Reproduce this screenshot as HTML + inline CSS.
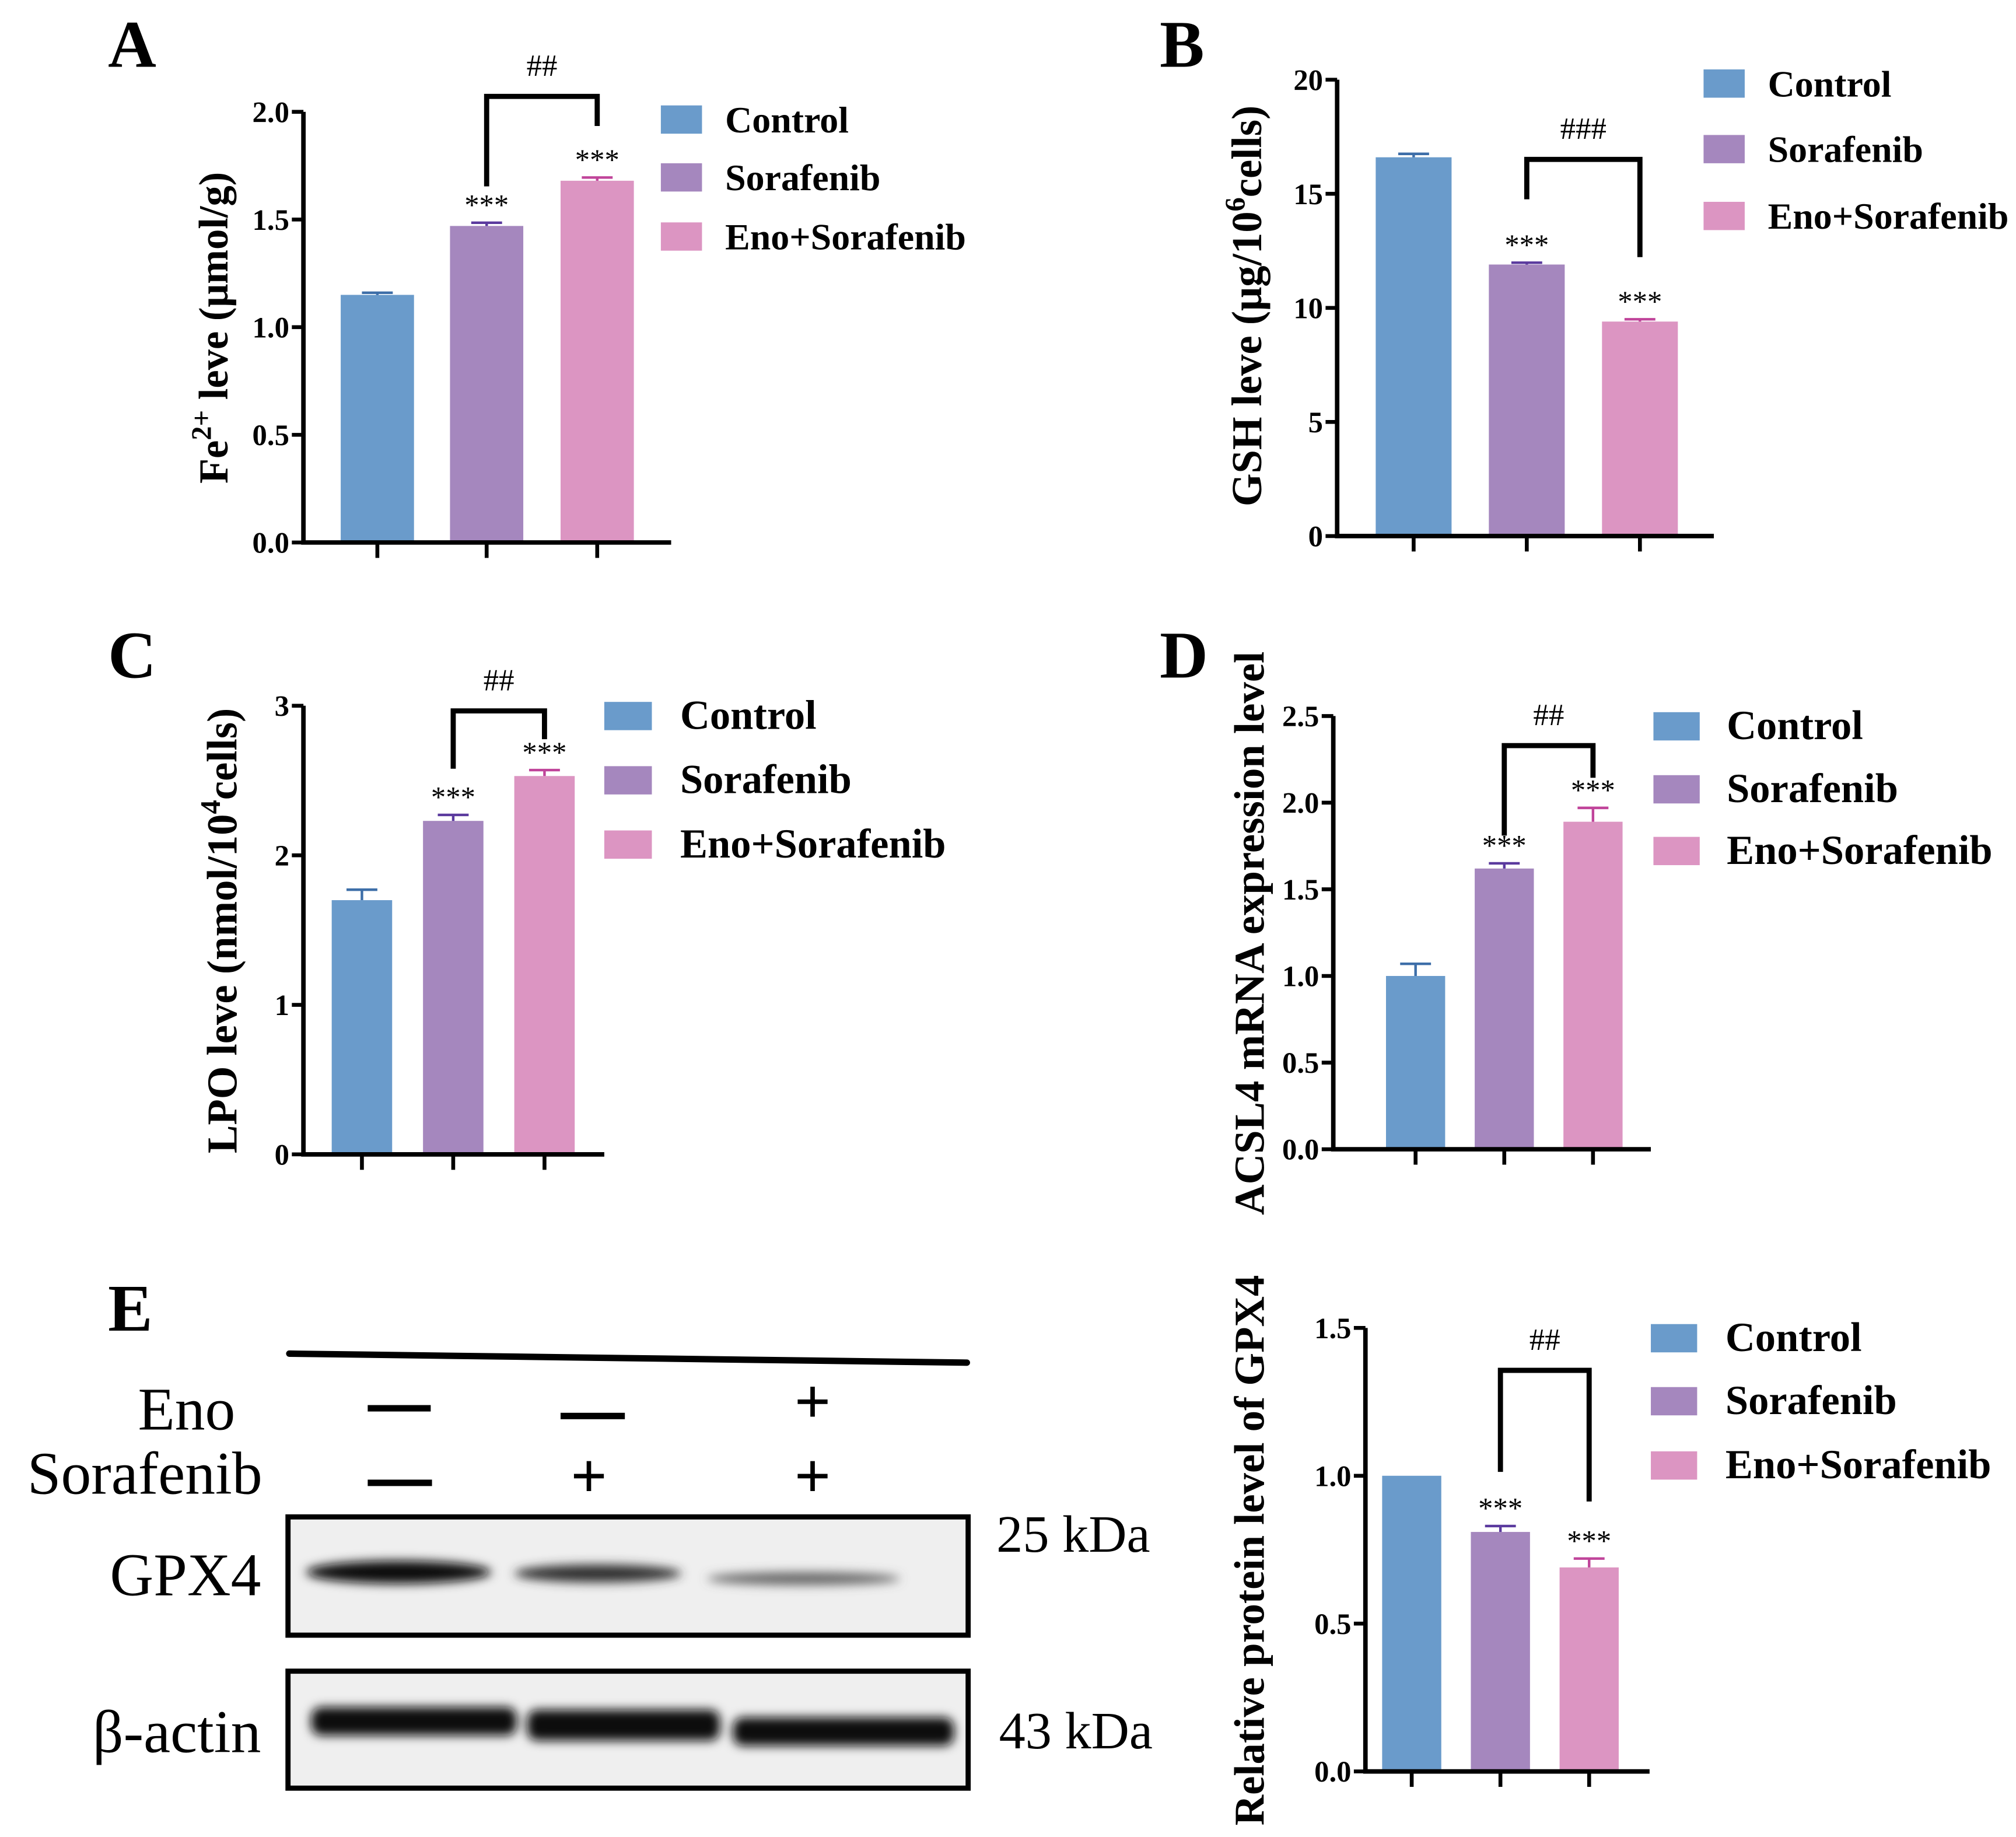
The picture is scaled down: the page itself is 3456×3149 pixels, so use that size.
<!DOCTYPE html>
<html><head><meta charset="utf-8"><style>
html,body{margin:0;padding:0;background:#fff;}
svg{display:block;}
text{font-family:"Liberation Serif",serif;}
</style></head><body>
<svg id="fig" width="3456" height="3149" viewBox="0 0 1568 1429" preserveAspectRatio="none" xmlns="http://www.w3.org/2000/svg">
<defs>
<filter id="blur" x="-10%" y="-100%" width="120%" height="300%"><feGaussianBlur stdDeviation="4"/></filter>
</defs>
<g id="charts"></g>
<g>
<text x="84" y="1035" font-size="52" font-weight="bold">E</text>
<line x1="225" y1="1053" x2="752" y2="1060" stroke="#000" stroke-width="5" stroke-linecap="round"/>
<text x="183" y="1112" font-size="47" text-anchor="end">Eno</text>
<text x="204" y="1162" font-size="47" text-anchor="end">Sorafenib</text>
<rect x="286" y="1093" width="49" height="5" fill="#000"/>
<rect x="436" y="1099" width="50" height="5" fill="#000"/>
<text x="632" y="1107" font-size="50" font-weight="bold" text-anchor="middle" font-family="Liberation Sans">+</text>
<rect x="286" y="1151" width="50" height="5" fill="#000"/>
<text x="458" y="1165" font-size="50" font-weight="bold" text-anchor="middle" font-family="Liberation Sans">+</text>
<text x="632" y="1165" font-size="50" font-weight="bold" text-anchor="middle" font-family="Liberation Sans">+</text>
<rect x="224" y="1180" width="529" height="92" fill="#efefef" stroke="#000" stroke-width="4"/>
<g filter="url(#blur)">
<ellipse cx="310" cy="1223" rx="72" ry="9" fill="#111"/>
<ellipse cx="465" cy="1224" rx="65" ry="7" fill="#333"/>
<ellipse cx="625" cy="1228" rx="75" ry="5" fill="#666"/>
</g>
<rect x="224" y="1300" width="529" height="91" fill="#efefef" stroke="#000" stroke-width="4"/>
<g filter="url(#blur)">
<rect x="242" y="1328" width="160" height="22" rx="8" fill="#111"/>
<rect x="410" y="1330" width="150" height="24" rx="8" fill="#111"/>
<rect x="570" y="1336" width="172" height="22" rx="8" fill="#111"/>
</g>
<text x="203" y="1241" font-size="47" text-anchor="end">GPX4</text>
<text x="203" y="1363" font-size="47" text-anchor="end">β-actin</text>
<text x="775" y="1207" font-size="41">25 kDa</text>
<text x="777" y="1360" font-size="41">43 kDa</text>
</g>
</svg>
<script>
const NS = "http://www.w3.org/2000/svg";
const groups = ["Control", "Sorafenib", "Eno+Sorafenib"];
const feValues = [1.15, 1.47, 1.68];
const feErrors = [0.01, 0.015, 0.015];
const feTicks = ["0.0", "0.5", "1.0", "1.5", "2.0"];
const gshValues = [16.6, 11.9, 9.4];
const gshErrors = [0.15, 0.08, 0.1];
const gshTicks = ["0", "5", "10", "15", "20"];
const lpoValues = [1.70, 2.23, 2.53];
const lpoErrors = [0.07, 0.04, 0.04];
const lpoTicks = ["0", "1", "2", "3"];
const acslValues = [1.00, 1.62, 1.89];
const acslErrors = [0.07, 0.03, 0.08];
const acslTicks = ["0.0", "0.5", "1.0", "1.5", "2.0", "2.5"];
const gpxValues = [1.00, 0.81, 0.69];
const gpxErrors = [0, 0.02, 0.03];
const gpxTicks = ["0.0", "0.5", "1.0", "1.5"];
const colors = ["#6a9bcb", "#a587be", "#dc95c2"];
const errColors = ["#3d6ea8", "#5b3a9e", "#c0449a"];

const root = document.getElementById("charts");
function mk(tag, attrs, parent) {
  const e = document.createElementNS(NS, tag);
  for (const k in attrs) e.setAttribute(k, attrs[k]);
  (parent || root).appendChild(e);
  return e;
}

function panel(p) {
  const g = mk("g", {});
  
  
  const ymax = parseFloat(p.ticks[p.ticks.length - 1]);
  const Y = v => p.y0 - (v / ymax) * (p.y0 - p.yTop);
  const lab = mk("text", {x: p.labX, y: p.labY, "font-size": 52, "font-weight": "bold"}, g);
  lab.textContent = p.letter;
  
  
  p.values.forEach((v, i) => {
    const cx = p.bx[i] + p.bw / 2;
    const r = mk("rect", {x: p.bx[i], y: Y(v), width: p.bw, height: p.y0 - Y(v), fill: colors[i]}, g);
    
    
    if (p.errors[i] > 0) {
      const ey = Y(v + p.errors[i]);
      const eb = mk("path", {d: `M${cx} ${Y(v)}V${ey}M${cx - 12} ${ey}H${cx + 12}`, stroke: errColors[i], "stroke-width": 2, fill: "none"}, g);
      
      
    }
    if (i > 0) {
      const s = mk("text", {x: cx, y: Y(v + p.errors[i]) - 6, "font-size": 23, "text-anchor": "middle"}, g);
      s.textContent = "***";
      
      
    }
    const t = mk("line", {x1: cx, y1: p.y0, x2: cx, y2: p.y0 + 12, stroke: "#000", "stroke-width": 3}, g);
    
    
  });
  const ax = mk("path", {d: `M${p.x0} ${p.yTop}V${p.y0}H${p.xEnd}`, stroke: "#000", "stroke-width": 3.5, fill: "none"}, g);
  
  
  p.ticks.forEach(tk => {
    const y = Y(parseFloat(tk));
    const l = mk("line", {x1: p.x0 - 9, y1: y, x2: p.x0, y2: y, stroke: "#000", "stroke-width": 3}, g);
    
    
    const tt = mk("text", {x: p.x0 - 11, y: y + 8, "font-size": 23, "font-weight": "bold", "text-anchor": "end"}, g);
    tt.textContent = tk;
    
    
  });
  const yt = mk("text", {x: 0, y: 0, "font-size": p.ytSize, "font-weight": "bold", "text-anchor": "middle", transform: `translate(${p.ytX},${p.ytY}) rotate(-90)`}, g);
  yt.innerHTML = p.ytitle;
  
  
  const c1 = p.bx[1] + p.bw / 2, c2 = p.bx[2] + p.bw / 2;
  const br = mk("path", {d: `M${c1} ${p.brL}V${p.brTop}H${c2}V${p.brR}`, stroke: "#000", "stroke-width": 4, fill: "none"}, g);
  
  
  const hs = mk("text", {x: (c1 + c2) / 2, y: p.brTop - 16, "font-size": 24, "text-anchor": "middle"}, g);
  hs.textContent = p.hash;
  
  
  groups.forEach((nm, i) => {
    const sq = mk("rect", {x: p.lx, y: p.ly[i], width: p.lw, height: 22, fill: colors[i]}, g);
    
    
    const lt = mk("text", {x: p.ltx, y: p.ly[i] + 21, "font-size": p.lfs, "font-weight": "bold"}, g);
    lt.textContent = nm;
    
    
  });
}

panel({name: "chart-fe2", letter: "A", labX: 84, labY: 52, values: feValues, errors: feErrors, ticks: feTicks,
  x0: 236, xEnd: 522, y0: 422, yTop: 87, bx: [265, 350, 436], bw: 57,
  ytitle: 'Fe<tspan dy="-13" font-size="22">2+</tspan><tspan dy="13"> leve (μmol/g)</tspan>', ytSize: 32, ytX: 177, ytY: 255,
  brTop: 75, brL: 145, brR: 98, hash: "##", lx: 514, ly: [82, 127, 173], lw: 32, ltx: 564, lfs: 29});
panel({name: "chart-gsh", letter: "B", labX: 902, labY: 52, values: gshValues, errors: gshErrors, ticks: gshTicks,
  x0: 1040, xEnd: 1333, y0: 417, yTop: 62, bx: [1070, 1158, 1246], bw: 59,
  ytitle: 'GSH leve (μg/10<tspan dy="-13" font-size="22">6</tspan><tspan dy="13">cells)</tspan>', ytSize: 33, ytX: 981, ytY: 238,
  brTop: 124, brL: 155, brR: 200, hash: "###", lx: 1325, ly: [54, 105, 157], lw: 32, ltx: 1375, lfs: 29});
panel({name: "chart-lpo", letter: "C", labX: 84, labY: 527, values: lpoValues, errors: lpoErrors, ticks: lpoTicks,
  x0: 236, xEnd: 470, y0: 898, yTop: 549, bx: [258, 329, 400], bw: 47,
  ytitle: 'LPO leve (nmol/10<tspan dy="-13" font-size="22">4</tspan><tspan dy="13">cells)</tspan>', ytSize: 33, ytX: 184, ytY: 724,
  brTop: 553, brL: 598, brR: 575, hash: "##", lx: 470, ly: [546, 596, 646], lw: 37, ltx: 529, lfs: 32});
panel({name: "chart-acsl4", letter: "D", labX: 902, labY: 527, values: acslValues, errors: acslErrors, ticks: acslTicks,
  x0: 1037, xEnd: 1284, y0: 894, yTop: 557, bx: [1078, 1147, 1216], bw: 46,
  ytitle: 'ACSL4 mRNA expression level', ytSize: 33, ytX: 983, ytY: 726,
  brTop: 580, brL: 650, brR: 605, hash: "##", lx: 1286, ly: [554, 603, 651], lw: 36, ltx: 1343, lfs: 32});
panel({name: "chart-gpx4-protein", letter: "", labX: 0, labY: 0, values: gpxValues, errors: gpxErrors, ticks: gpxTicks,
  x0: 1062, xEnd: 1283, y0: 1378, yTop: 1033, bx: [1075, 1144, 1213], bw: 46,
  ytitle: 'Relative protein level of GPX4', ytSize: 33, ytX: 983, ytY: 1206,
  brTop: 1066, brL: 1145, brR: 1168, hash: "##", lx: 1284, ly: [1030, 1079, 1129], lw: 36, ltx: 1342, lfs: 32});
</script>
</body></html>
